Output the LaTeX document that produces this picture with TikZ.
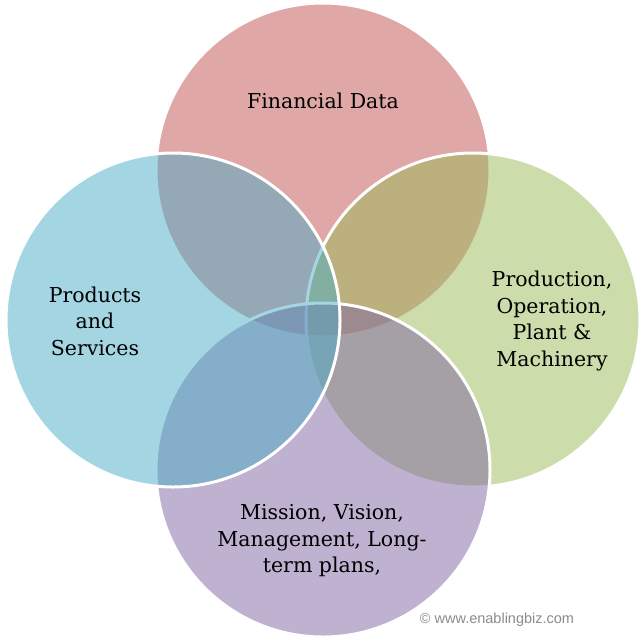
\documentclass[tikz,border=0pt]{standalone}
\usepackage{fontspec}
\setmainfont{DejaVu Serif}
\newfontfamily\markfont{Liberation Sans}
\definecolor{cred}{HTML}{C0504D}
\definecolor{cblue}{HTML}{4BACC6}
\definecolor{cgreen}{HTML}{9BBB59}
\definecolor{cpurple}{HTML}{8064A2}
\definecolor{markgrey}{HTML}{8C8C8C}
\begin{document}
\begin{tikzpicture}[x=1pt,y=-1pt,
  circ/.style={draw=white, line width=3pt, fill opacity=0.5, draw opacity=1},
  lab/.style={align=center, font=\fontsize{20.5}{26.5}\selectfont, text=black, inner sep=0pt}]
\useasboundingbox (0,0) rectangle (644,641);
\fill[white] (0,0) rectangle (644,641);
\coordinate (ctop) at (323,170);
\coordinate (cright) at (473,320);
\coordinate (cbottom) at (323,470);
\coordinate (cleft) at (173,320);
\path[circ, fill=cred] (ctop) circle[radius=167pt];
\path[circ, fill=cgreen] (cright) circle[radius=167pt];
\path[circ, fill=cpurple] (cbottom) circle[radius=167pt];
\path[circ, fill=cblue] (cleft) circle[radius=167pt];
\node[lab] (fin) at (323,101) {Financial Data};
\node[lab] (prod) at (95,321) {Products\\and\\Services};
\node[lab] (oper) at (552,321) {Production,\\Operation,\\Plant \&\\Machinery};
\node[lab] (miss) at (322,541) {Mission, Vision,\\Management, Long-\\term plans,};
\node[font=\markfont\fontsize{14.5}{16}\selectfont, text=markgrey, inner sep=0pt] (mark) at (497,620) {© www.enablingbiz.com};
\end{tikzpicture}
\end{document}
